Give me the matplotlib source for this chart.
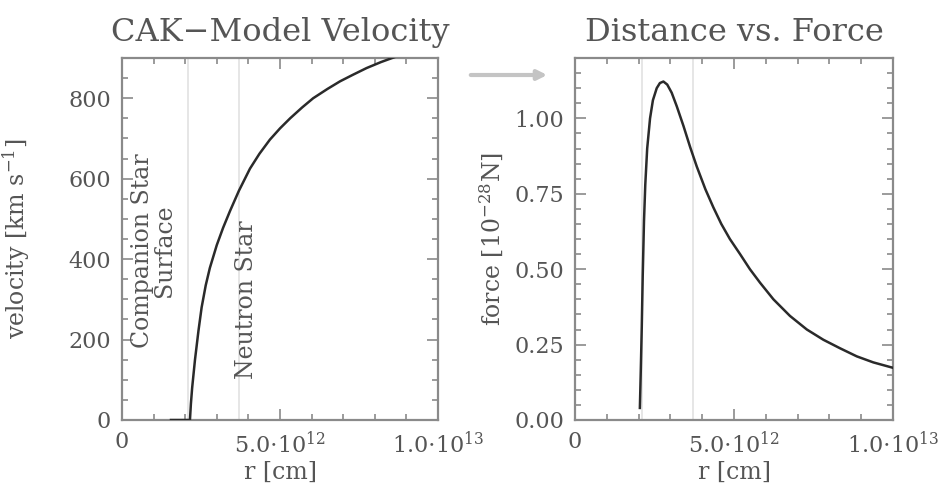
import matplotlib
matplotlib.use("Agg")
import matplotlib.pyplot as plt
from matplotlib.ticker import MultipleLocator, FixedLocator, FixedFormatter

# ---- data ----
# velocity profile: r in cm, v in km/s
vel_r = [1.55e12, 2.15e12, 2.18e12, 2.22e12, 2.31e12, 2.42e12, 2.52e12, 2.65e12,
         2.78e12, 3.00e12, 3.20e12, 3.42e12, 3.70e12, 4.05e12, 4.35e12, 4.68e12,
         5.00e12, 5.32e12, 5.70e12, 6.05e12, 6.50e12, 6.90e12, 7.30e12, 7.74e12,
         8.20e12, 8.69e12, 9.30e12, 1.0e13]
vel_v = [0, 0, 40, 80, 150, 222, 280, 335, 378, 435, 478, 520, 570, 625, 662, 697,
         725, 750, 777, 800, 823, 842, 858, 875, 890, 904, 922, 940]

# force profile: r in cm, force in 10^-28 N
frc_r = [2.04e12, 2.07e12, 2.10e12, 2.13e12, 2.17e12, 2.21e12, 2.27e12, 2.36e12,
         2.45e12, 2.57e12, 2.67e12, 2.78e12, 2.90e12, 3.04e12, 3.20e12, 3.41e12,
         3.62e12, 3.83e12, 4.10e12, 4.35e12, 4.60e12, 4.87e12, 5.19e12, 5.50e12,
         5.82e12, 6.24e12, 6.76e12, 7.29e12, 7.81e12, 8.33e12, 8.86e12, 9.38e12,
         1.0e13]
frc_f = [0.04, 0.17, 0.31, 0.48, 0.66, 0.78, 0.90, 1.00, 1.06, 1.10, 1.117, 1.122,
         1.112, 1.085, 1.04, 0.975, 0.905, 0.84, 0.765, 0.705, 0.65, 0.60, 0.55,
         0.50, 0.455, 0.40, 0.345, 0.30, 0.266, 0.238, 0.211, 0.191, 0.173]

# reference radii (vertical guide lines)
companion_r = 2.1e12
neutron_r = 3.7e12

xtick_vals = [0, 5.0e12, 1.0e13]
xtick_labels = ["0", r"5.0$\cdot$10$^{12}$", r"1.0$\cdot$10$^{13}$"]
vtick_vals = [0, 200, 400, 600, 800]
ftick_vals = [0.0, 0.25, 0.50, 0.75, 1.00]
ftick_labels = ["0.00", "0.25", "0.50", "0.75", "1.00"]

plt.rcParams['font.family'] = ['DejaVu Serif']
plt.rcParams['mathtext.fontset'] = 'dejavuserif'

TXT = "#555555"
AX = "#8a8a8a"
LINE = "#2a2a2a"
GUIDE = "#e2e2e2"

fig = plt.figure(figsize=(9.39, 4.91), dpi=100)
W, H = 939, 491

def add_ax(l, r, t, b):
    return fig.add_axes([l / W, 1 - b / H, (r - l) / W, (b - t) / H])

ax1 = add_ax(122, 438, 58, 420)
ax2 = add_ax(575, 893, 58, 420)

def style(ax):
    for s in ax.spines.values():
        s.set_color(AX)
        s.set_linewidth(1.6)
    ax.tick_params(which='both', direction='in', top=True, right=True,
                   colors=AX, labelcolor=TXT, labelsize=16, width=1.2)
    ax.tick_params(which='major', length=8, pad=8)
    ax.tick_params(which='minor', length=4)
    ax.set_xlim(0, 1.0e13)
    ax.xaxis.set_major_locator(FixedLocator(xtick_vals))
    ax.xaxis.set_major_formatter(FixedFormatter(xtick_labels))
    ax.xaxis.set_minor_locator(MultipleLocator(1.0e12))
    ax.set_xlabel("r [cm]", color=TXT, fontsize=17, labelpad=2)
    ax.axvline(companion_r, color=GUIDE, lw=1.2, zorder=1)
    ax.axvline(neutron_r, color=GUIDE, lw=1.2, zorder=1)

style(ax1)
style(ax2)

ax1.plot(vel_r, vel_v, color=LINE, lw=1.8, zorder=3)
ax1.set_ylim(0, 900)
ax1.yaxis.set_major_locator(FixedLocator(vtick_vals))
ax1.yaxis.set_minor_locator(MultipleLocator(50))
ax1.set_ylabel(r"velocity [km s$^{-1}$]", color=TXT, fontsize=17, labelpad=26)
ax1.set_title("CAK\u2212Model Velocity", color=TXT, fontsize=23, pad=12)

ax1.text(1.0e12, 420, "Companion Star\nSurface", rotation=90, ha='center',
         va='center', color=TXT, fontsize=17, multialignment='center',
         linespacing=0.95)
ax1.text(3.95e12, 300, "Neutron Star", rotation=90, ha='center', va='center',
         color=TXT, fontsize=17)

ax2.plot(frc_r, frc_f, color=LINE, lw=1.8, zorder=3)
ax2.set_ylim(0, 1.2)
ax2.yaxis.set_major_locator(FixedLocator(ftick_vals))
ax2.yaxis.set_major_formatter(FixedFormatter(ftick_labels))
ax2.yaxis.set_minor_locator(MultipleLocator(0.05))
ax2.set_ylabel(r"force [10$^{-28}$N]", color=TXT, fontsize=17, labelpad=6)
ax2.set_title("Distance vs. Force", color=TXT, fontsize=23, pad=12)

# arrow between panels
fig.patches.append(matplotlib.patches.FancyArrowPatch(
    (468 / W, 1 - 75 / H), (550 / W, 1 - 75 / H), transform=fig.transFigure,
    arrowstyle='-|>', mutation_scale=14, color="#c4c4c4", lw=3))

fig.savefig("out.png", dpi=100)
